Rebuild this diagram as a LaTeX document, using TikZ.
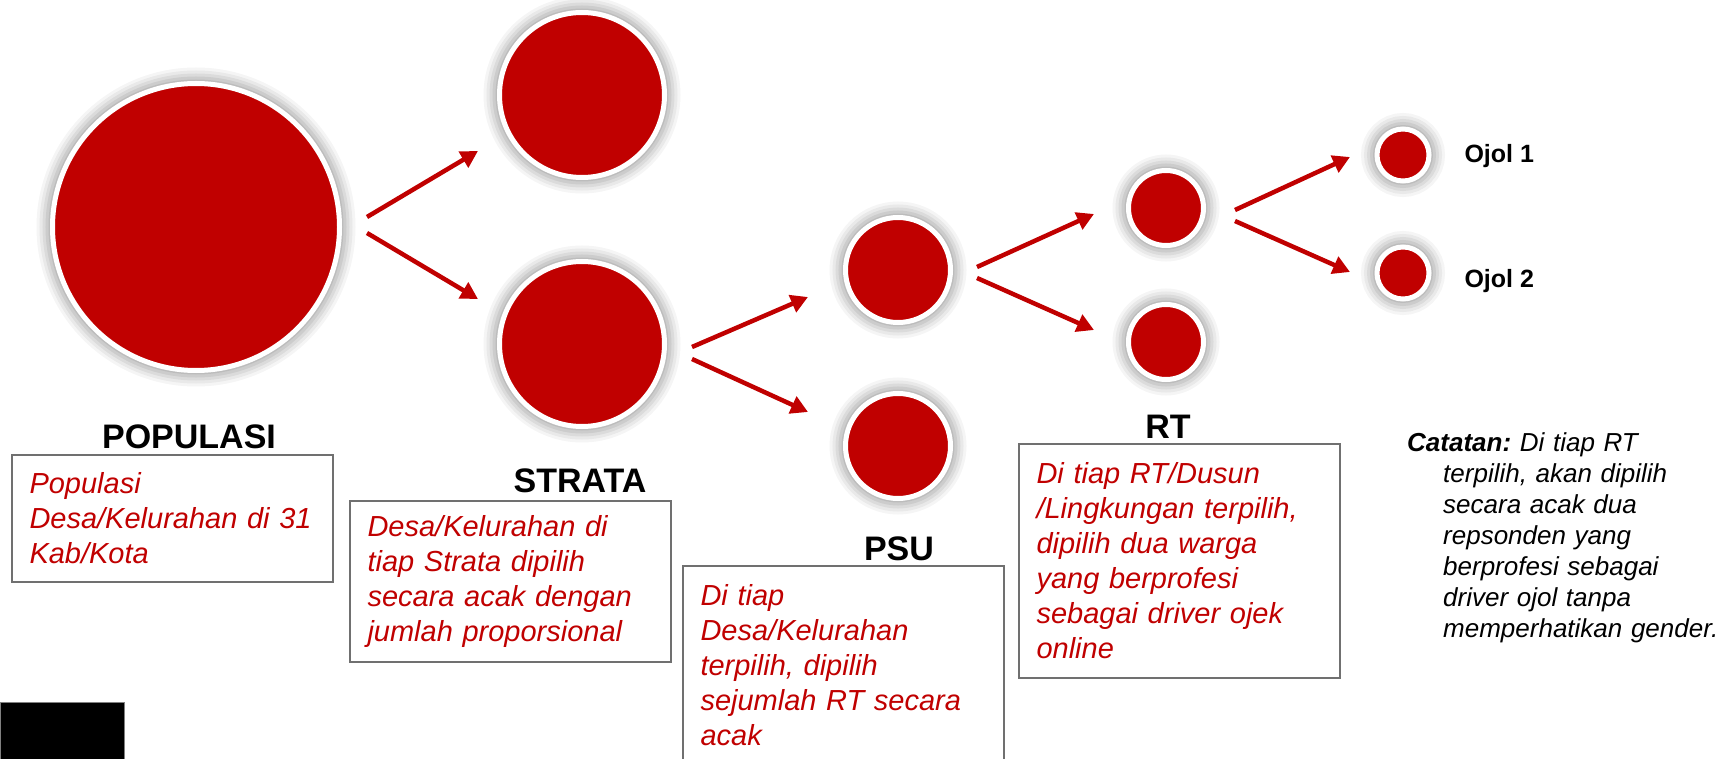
\documentclass[tikz,border=0pt]{standalone}
\usepackage{fontspec}
\setmainfont{Liberation Sans}
\usepackage{xcolor}
\usepackage{tikz}
\usetikzlibrary{arrows.meta,positioning,shapes}

\definecolor{cred}{RGB}{192,0,0}
\definecolor{boxgray}{RGB}{112,112,112}

\begin{document}
\begin{tikzpicture}[
            x = 1pt, y = -1pt, % one unit per pixel, y going down
            > = {Triangle[length=17pt,width=18pt]}, % arrow head style
            arr/.style = {->, draw = cred, line width = 4.5pt},
            title/.style = {anchor = base, font = \fontsize{34}{40}\selectfont\bfseries},
            olabel/.style = {anchor = base west, font = \fontsize{25}{30}\selectfont\bfseries}
        ]

        \tikzset{
            blob/.style = {
                circle,
                fill = cred,
                draw = white,
                line width = 5pt,
                inner sep = 0pt,
                preaction = {draw = black, opacity = 0.07, line width = 8pt},
                preaction = {draw = black, opacity = 0.07, line width = 14pt},
                preaction = {draw = black, opacity = 0.06, line width = 20pt},
                preaction = {draw = black, opacity = 0.05, line width = 26pt},
                preaction = {draw = black, opacity = 0.04, line width = 32pt}
            },
            note/.style = {
                draw = boxgray,
                line width = 2pt,
                anchor = north west,
                align = left,
                text width = 286pt,
                inner xsep = 17.5pt,
                text = cred,
                font = \fontsize{29}{35}\selectfont\itshape
            }
        }

        \useasboundingbox (0,0) rectangle (1733,759);
        \clip (0,0) rectangle (1733,759);

        \node[blob, minimum size = 287] (pop) [at={(196,227)}] {};
        \node[blob, minimum size = 165] (stra1) [at={(582,95)}] {};
        \node[blob, minimum size = 165] (stra2) [at={(582,344)}] {};
        \node[blob, minimum size = 105] (psu1) [at={(898,270)}] {};
        \node[blob, minimum size = 105] (psu2) [at={(898,446)}] {};
        \node[blob, minimum size = 75] (rt1) [at={(1166,208)}] {};
        \node[blob, minimum size = 75] (rt2) [at={(1166,342)}] {};
        \node[blob, minimum size = 52] (oj1) [at={(1403,155)}] {};
        \node[blob, minimum size = 52] (oj2) [at={(1403,273)}] {};
        % Titles
        \node[title] (tpop) [at={(189,448)}] {POPULASI};
        \node[title] (tstra) [at={(580,492)}] {STRATA};
        \node[title] (tpsu) [at={(899,560)}] {PSU};
        \node[title] (trt) [at={(1168,438)}] {RT};
        \node[olabel] (loj1) [at={(1461,163)}] {Ojol 1};
        \node[olabel] (loj2) [at={(1461,288)}] {Ojol 2};
        % Boxes
        \node[note, minimum height = 127pt] (bpop) [at={(11,454)}] {Populasi\\Desa/Kelurahan di~31\\Kab/Kota};
        \node[note, minimum height = 161pt] (bstra) [at={(349,500)}] {Desa/Kelurahan di\\tiap Strata dipilih\\secara acak dengan\\jumlah proporsional};
        \node[note, inner ysep = 18pt] (bpsu) [at={(682,565)}] {Di tiap\\Desa/Kelurahan\\terpilih, dipilih\\sejumlah RT secara\\acak};
        \node[note, minimum height = 234pt] (brt) [at={(1018,443)}] {Di tiap RT/Dusun\\/Lingkungan terpilih,\\dipilih dua warga\\yang berprofesi\\sebagai driver ojek\\online};
        \node[anchor = north west, inner sep = 0pt, text width = 330pt, align = left,
              font = \fontsize{26}{31}\selectfont\itshape] (cat) [at={(1407,432)}]
              {\leftskip=36pt\hspace*{-36pt}{\bfseries Catatan:}\ Di tiap RT\\terpilih, akan dipilih\\secara acak dua\\repsonden yang\\berprofesi sebagai\\driver ojol tanpa\\memperhatikan gender.\par};
        \node[fill = black, draw = gray, line width = 1pt, anchor = north west, inner sep = 0pt,
              minimum width = 124pt, minimum height = 70pt] (blk) [at={(0,702)}] {};

        \draw[arr] ([shift={(25,-10)}]pop.east) -- ([shift={(-19,56)}]stra1.west);
        \draw[arr] ([shift={(25,6)}]pop.east) -- ([shift={(-19,-45)}]stra2.west);
        \draw[arr] ([shift={(25,3)}]stra2.east) -- ([shift={(-35,27)}]psu1.west);
        \draw[arr] ([shift={(25,15)}]stra2.east) -- ([shift={(-35,-34)}]psu2.west);
        \draw[arr] ([shift={(24,-3)}]psu1.east) -- ([shift={(-32,6)}]rt1.west);
        \draw[arr] ([shift={(24,8)}]psu1.east) -- ([shift={(-32,-12)}]rt2.west);
        \draw[arr] ([shift={(29,2)}]rt1.east) -- ([shift={(-24.5,2)}]oj1.west);
        \draw[arr] ([shift={(29,13)}]rt1.east) -- ([shift={(-24.5,-1)}]oj2.west);
      \end{tikzpicture}
\end{document}
